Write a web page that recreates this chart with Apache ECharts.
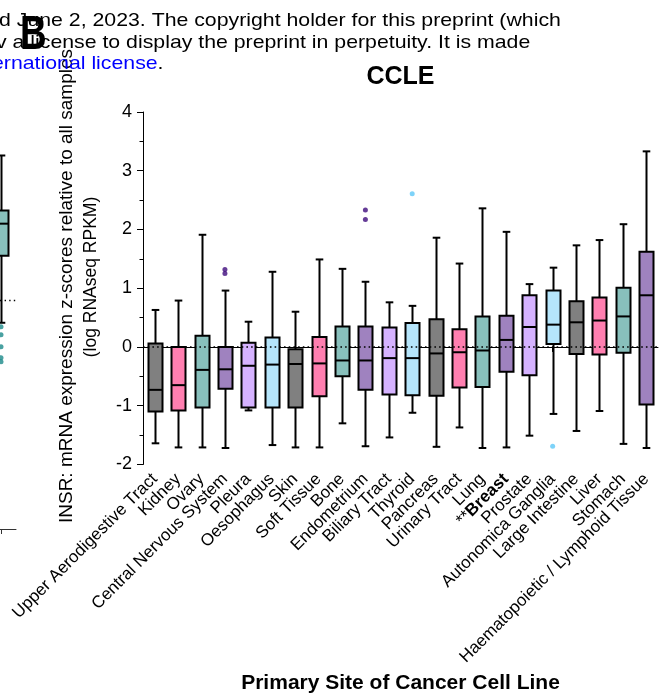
<!DOCTYPE html>
<html>
<head>
<meta charset="utf-8">
<script src="https://cdn.jsdelivr.net/npm/echarts@6/dist/echarts.min.js"></script>
<style>
  html, body { margin: 0; padding: 0; background: #ffffff; }
  #chart { width: 671px; height: 699px; }
</style>
</head>
<body>
<div id="chart"></div>
<script>
// INSR expression z-scores across CCLE primary sites (box = quartiles, whiskers = 1-99th pct)
const sites = [
  'Upper Aerodigestive Tract', 'Kidney', 'Ovary', 'Central Nervous System', 'Pleura',
  'Oesophagus', 'Skin', 'Soft Tissue', 'Bone', 'Endometrium', 'Biliary Tract', 'Thyroid',
  'Pancreas', 'Urinary Tract', 'Lung', 'Breast', 'Prostate', 'Autonomica Ganglia',
  'Large Intestine', 'Liver', 'Stomach', 'Haematopoietic / Lymphoid Tissue'
];
const whiskerLow  = [-1.64, -1.71, -1.71, -1.72, -1.08, -1.67, -1.71, -1.71, -1.30, -1.69, -1.54, -1.12, -1.70, -1.37, -1.72, -1.71, -1.51, -1.14, -1.43, -1.09, -1.65, -1.72];
const q1          = [-1.10, -1.08, -1.03, -0.71, -1.03, -1.03, -1.03, -0.84, -0.50, -0.73, -0.81, -0.82, -0.83, -0.69, -0.68, -0.42, -0.48,  0.05, -0.12, -0.13, -0.10, -0.98];
const median      = [-0.73, -0.65, -0.39, -0.38, -0.32, -0.30, -0.29, -0.28, -0.23, -0.23, -0.19, -0.19, -0.11, -0.09, -0.06,  0.12,  0.34,  0.38,  0.42,  0.45,  0.52,  0.88];
const q3          = [ 0.06,  0.00,  0.19,  0.00,  0.07,  0.16, -0.04,  0.17,  0.35,  0.35,  0.33,  0.41,  0.47,  0.30,  0.52,  0.53,  0.88,  0.96,  0.78,  0.84,  1.01,  1.62];
const whiskerHigh = [ 0.63,  0.79,  1.91,  0.96,  0.43,  1.28,  0.60,  1.49,  1.33,  1.11,  0.76,  0.70,  1.86,  1.42,  2.36,  1.96,  1.07,  1.35,  1.73,  1.82,  2.09,  3.33];

const outlierSite  = ['Central Nervous System', 'Central Nervous System', 'Endometrium', 'Endometrium', 'Thyroid', 'Autonomica Ganglia'];
const outlierValue = [1.32, 1.25, 2.33, 2.17, 2.61, -1.69];

const significantSite = 'Breast';
const yTicks = [-2, -1, 0, 1, 2, 3, 4];

// neighbouring panel (only its right edge falls inside the figure)
const sidePanelBox = { low: -0.40, q1: 0.77, median: 1.33, q3: 1.56, high: 2.52 };
const sidePanelOutliers = [-0.47, -0.61, -0.82, -1.01, -1.08];

// styling
const boxPalette     = ['#808080', '#ff7fb0', '#88c0bc', '#9f82bf', '#d5b2ff', '#b5e5fb'];
const outlierPalette = ['#404040', '#e0407f', '#1b8a8a', '#3f0b7d', '#8a5ad0', '#5ec8f7'];
const FONT = 'Liberation Sans, Arial, Helvetica, sans-serif';

const boxData = sites.map((s, i) => [i, whiskerLow[i], q1[i], median[i], q3[i], whiskerHigh[i]]);
const outlierData = outlierSite.map((s, k) => ({
  value: [s, outlierValue[k]],
  itemStyle: { color: outlierPalette[sites.indexOf(s) % outlierPalette.length] }
}));

// box + whiskers + narrow caps; half/cap are pixel half-widths
function makeBoxRenderer(fillFor, half, cap) {
  return function (params, api) {
    const i = api.value(0);
    const lo = api.coord([i, api.value(1)]);
    const b1 = api.coord([i, api.value(2)]);
    const md = api.coord([i, api.value(3)]);
    const b3 = api.coord([i, api.value(4)]);
    const hi = api.coord([i, api.value(5)]);
    const x = Math.round(lo[0]) + 0.5;
    const ln = { stroke: '#000', lineWidth: 2 };
    return {
      type: 'group',
      children: [
        { type: 'line', shape: { x1: x, y1: hi[1], x2: x, y2: lo[1] }, style: ln },
        { type: 'line', shape: { x1: x - cap, y1: hi[1], x2: x + cap, y2: hi[1] }, style: ln },
        { type: 'line', shape: { x1: x - cap, y1: lo[1], x2: x + cap, y2: lo[1] }, style: ln },
        { type: 'rect', shape: { x: x - half, y: b3[1], width: 2 * half, height: b1[1] - b3[1] },
          style: { fill: fillFor(i), stroke: '#000', lineWidth: 2 } },
        { type: 'line', shape: { x1: x - half, y1: md[1], x2: x + half, y2: md[1] }, style: ln }
      ]
    };
  };
}

const chart = echarts.init(document.getElementById('chart'), null, { renderer: 'canvas' });

chart.setOption({
  animation: false,
  backgroundColor: '#ffffff',
  textStyle: { fontFamily: FONT },
  grid: [
    { left: 143, right: 13, top: 112, bottom: 232, containLabel: false },
    { left: 0, width: 16, top: 128, bottom: 170, containLabel: false }
  ],
  xAxis: [
    {
      type: 'category',
      gridIndex: 0,
      data: sites,
      boundaryGap: true,
      axisLine: { show: true, lineStyle: { color: '#000', width: 1 } },
      axisTick: { show: true, alignWithLabel: true, length: 5, lineStyle: { color: '#000' } },
      axisLabel: {
        interval: 0,
        rotate: 45,
        margin: 12,
        color: '#000',
        fontSize: 17,
        fontFamily: FONT,
        formatter: v => v === significantSite ? '{m|**}{b|' + v + '}' : v,
        rich: {
          m: { fontSize: 17, fontFamily: FONT, color: '#000' },
          b: { fontSize: 17, fontFamily: FONT, fontWeight: 'bold', color: '#000' }
        }
      },
      name: 'Primary Site of Cancer Cell Line',
      nameLocation: 'middle',
      nameGap: 204,
      nameTextStyle: { color: '#000', fontSize: 21, fontWeight: 'bold', fontFamily: FONT }
    },
    {
      type: 'value',
      gridIndex: 1,
      min: -1,
      max: 15,
      interval: 16,
      axisLine: { show: true, onZero: false, lineStyle: { color: '#333', width: 1 } },
      axisTick: { show: true, length: 5, customValues: [0], lineStyle: { color: '#333' } },
      axisLabel: { show: false },
      splitLine: { show: false }
    }
  ],
  yAxis: [
    {
      type: 'value',
      gridIndex: 0,
      min: yTicks[0],
      max: yTicks[yTicks.length - 1],
      interval: 1,
      axisLine: { show: true, lineStyle: { color: '#000', width: 1 } },
      axisTick: { show: true, length: 6, lineStyle: { color: '#000' } },
      minorTick: { show: true, splitNumber: 2, length: 3.5, lineStyle: { color: '#000' } },
      splitLine: { show: false },
      axisLabel: { color: '#000', fontSize: 18, fontFamily: FONT, margin: 11 }
    },
    {
      type: 'value',
      gridIndex: 1,
      min: -4,
      max: 3,
      show: false
    }
  ],
  series: [
    {
      type: 'custom',
      name: 'INSR',
      xAxisIndex: 0,
      yAxisIndex: 0,
      renderItem: makeBoxRenderer(i => boxPalette[i % boxPalette.length], 7, 3.8),
      encode: { x: 0, y: [1, 2, 3, 4, 5] },
      data: boxData,
      z: 2,
      markLine: {
        silent: true,
        symbol: 'none',
        label: { show: false },
        lineStyle: { color: '#000', width: 1.6, type: [1.6, 3.1] },
        data: [{ yAxis: 0 }],
        z: 5
      }
    },
    {
      type: 'scatter',
      name: 'outliers',
      xAxisIndex: 0,
      yAxisIndex: 0,
      symbol: 'circle',
      symbolSize: 5,
      data: outlierData,
      z: 3
    },
    {
      type: 'custom',
      name: 'side panel',
      xAxisIndex: 1,
      yAxisIndex: 1,
      renderItem: makeBoxRenderer(() => boxPalette[2], 7, 3.8),
      encode: { x: 0, y: [1, 2, 3, 4, 5] },
      data: [[0, sidePanelBox.low, sidePanelBox.q1, sidePanelBox.median, sidePanelBox.q3, sidePanelBox.high]],
      markLine: {
        silent: true,
        symbol: 'none',
        label: { show: false },
        lineStyle: { color: '#000', width: 1.4, type: [1.4, 3.2] },
        data: [{ yAxis: 0 }]
      }
    },
    {
      type: 'scatter',
      name: 'side outliers',
      xAxisIndex: 1,
      yAxisIndex: 1,
      symbolSize: 5,
      itemStyle: { color: outlierPalette[2] },
      data: sidePanelOutliers.map(v => [0, v])
    }
  ],
  graphic: [
    { type: 'text', x: -1, y: 21, z: 10, scaleX: 1.12,
      style: { text: 'd June 2, 2023. The copyright holder for this preprint (which', font: '19px ' + FONT, fill: '#000', verticalAlign: 'middle' } },
    { type: 'text', x: -4, y: 42.5, z: 10, scaleX: 1.12,
      style: { text: 'v a license to display the preprint in perpetuity. It is made', font: '19px ' + FONT, fill: '#000', verticalAlign: 'middle' } },
    { type: 'text', x: -8, y: 64, z: 10, scaleX: 1.12,
      style: {
        text: '{a|ernational license}{b|.}', verticalAlign: 'middle',
        rich: {
          a: { fontSize: 19, fontFamily: FONT, fill: '#0000ff' },
          b: { fontSize: 19, fontFamily: FONT, fill: '#000' }
        }
      } },
    { type: 'text', x: 20, y: 36, z: 11, scaleY: 1.3,
      style: { text: 'B', font: 'bold 37px ' + FONT, fill: '#000', verticalAlign: 'middle' } },
    { type: 'text', x: 400.5, y: 77, z: 10,
      style: { text: 'CCLE', font: 'bold 25px ' + FONT, fill: '#000', align: 'center', verticalAlign: 'middle' } },
    { type: 'text', x: 67, y: 286, rotation: Math.PI / 2, z: 4,
      style: { text: 'INSR: mRNA expression z-scores relative to all samples', font: '19px ' + FONT, fill: '#000', align: 'center', verticalAlign: 'middle' } },
    { type: 'text', x: 91, y: 277, rotation: Math.PI / 2, z: 4,
      style: { text: '(log RNAseq RPKM)', font: '17.5px ' + FONT, fill: '#000', align: 'center', verticalAlign: 'middle' } }
  ]
});
</script>
</body>
</html>
